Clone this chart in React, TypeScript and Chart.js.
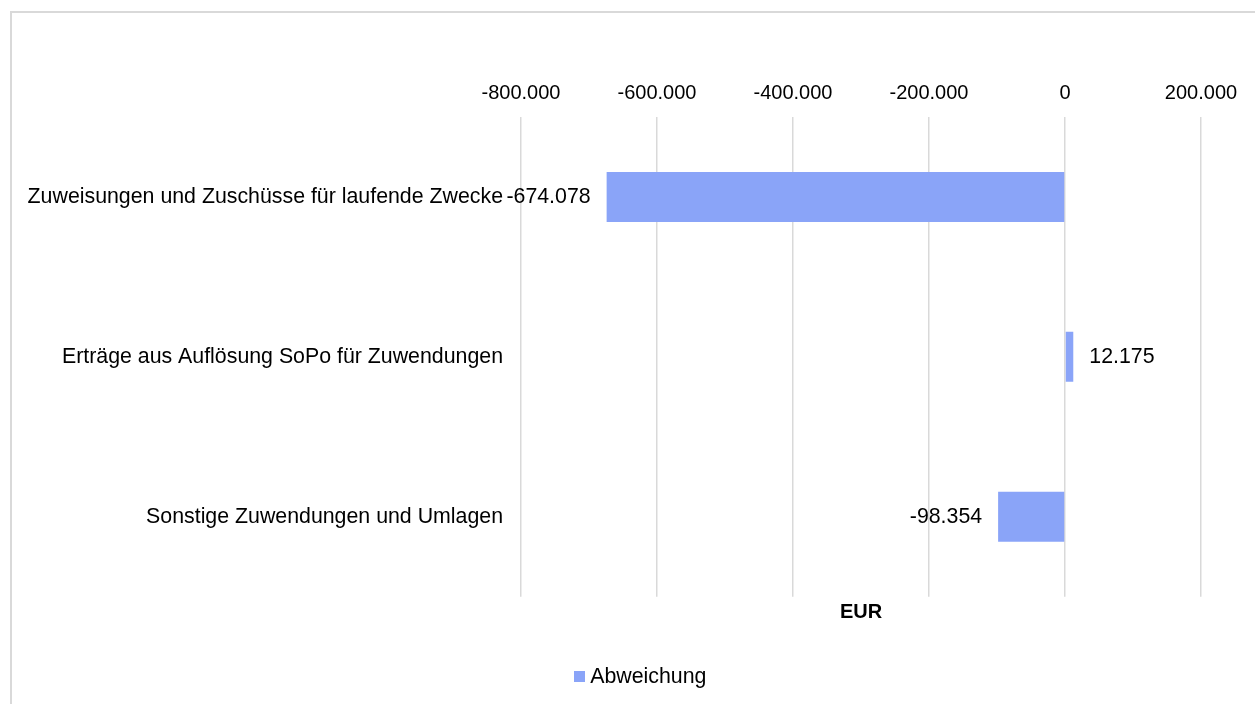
import React, { useEffect, useRef } from "react";
import { Chart, registerables } from "chart.js";

Chart.register(...registerables);

const categories = [
  "Zuweisungen und Zuschüsse für laufende Zwecke",
  "Erträge aus Auflösung SoPo für Zuwendungen",
  "Sonstige Zuwendungen und Umlagen",
];
const abweichung = [-674078, 12175, -98354];
const seriesLabel = "Abweichung";
const axisTitle = "EUR";
const xMin = -800000;
const xMax = 200000;
const xStep = 200000;

const FONT = '"Liberation Sans", Arial, Helvetica, sans-serif';
const BAR_COLOR = "#8AA4F8";
const LABEL_SIZE = 21.33;

function fmt(v: number): string {
  const neg = v < 0;
  const s = Math.round(Math.abs(v)).toString();
  const parts: string[] = [];
  for (let i = s.length; i > 0; i -= 3) parts.unshift(s.substring(Math.max(0, i - 3), i));
  return (neg ? "-" : "") + parts.join(".");
}

function makeMarker(): HTMLCanvasElement {
  const c = document.createElement("canvas");
  c.width = 11;
  c.height = 11;
  const g = c.getContext("2d");
  if (g) {
    g.fillStyle = BAR_COLOR;
    g.fillRect(0, 0, 11, 11);
  }
  return c;
}

const valueLabels = {
  id: "valueLabels",
  afterDatasetsDraw(chart: any) {
    const ctx = chart.ctx;
    const meta = chart.getDatasetMeta(0);
    ctx.save();
    ctx.font = `${LABEL_SIZE}px ${FONT}`;
    ctx.fillStyle = "#000";
    ctx.textBaseline = "middle";
    meta.data.forEach((bar: any, i: number) => {
      const v = abweichung[i];
      const { x, y } = bar.getProps(["x", "y"], true);
      if (v < 0) {
        ctx.textAlign = "right";
        ctx.fillText(fmt(v), x - 16, y);
      } else {
        ctx.textAlign = "left";
        ctx.fillText(fmt(v), x + 16, y);
      }
    });
    ctx.restore();
  },
};

export default function App() {
  const ref = useRef<HTMLCanvasElement | null>(null);
  useEffect(() => {
    if (!ref.current) return;
    Chart.defaults.font.family = FONT;
    const marker = makeMarker();
    const chart = new Chart(ref.current, {
      type: "bar",
      data: {
        labels: categories,
        datasets: [
          {
            label: seriesLabel,
            data: abweichung,
            backgroundColor: BAR_COLOR,
            borderWidth: 0,
            categoryPercentage: 1,
            barPercentage: 0.3125,
            pointStyle: marker,
          },
        ],
      },
      options: {
        indexAxis: "y",
        animation: false,
        responsive: false,
        devicePixelRatio: 1,
        layout: { padding: { top: 58, right: 0, left: 0, bottom: 33.5 } },
        scales: {
          x: {
            type: "linear",
            position: "top",
            min: xMin,
            max: xMax,
            ticks: {
              stepSize: xStep,
              padding: 12,
              color: "#000",
              font: { size: 20 },
              callback: (v: any) => fmt(Number(v)),
            },
            grid: { color: "#d9d9d9", lineWidth: 1.5, drawTicks: false },
            border: { display: false },
          },
          x2: {
            type: "linear",
            position: "bottom",
            min: xMin,
            max: xMax,
            ticks: { display: false },
            grid: { display: false, drawTicks: false },
            border: { display: false },
            title: {
              display: true,
              text: axisTitle,
              color: "#000",
              font: { size: 20, weight: "bold" },
              padding: { top: 4, bottom: 31.5 },
            },
          },
          y: {
            grid: { display: false, drawTicks: false },
            border: { display: false },
            ticks: { padding: 18, color: "#000", font: { size: LABEL_SIZE } },
            afterFit: (s: any) => {
              s.width = 511;
            },
          },
          y2: {
            type: "linear",
            position: "right",
            ticks: { display: false },
            grid: { display: false, drawTicks: false },
            border: { display: false },
            afterFit: (s: any) => {
              s.width = 75;
            },
          },
        },
        plugins: {
          legend: {
            position: "bottom",
            labels: {
              usePointStyle: true,
              pointStyleWidth: 0.01,
              color: "#000",
              font: { size: LABEL_SIZE },
              padding: 10,
            },
          },
          tooltip: { enabled: false },
        },
      } as any,
      plugins: [valueLabels],
    });
    return () => chart.destroy();
  }, []);

  return (
    <div
      style={{
        position: "fixed",
        left: 0,
        top: 0,
        width: 1255,
        height: 704,
        overflow: "hidden",
        background: "#fff",
      }}
    >
      <div
        style={{
          position: "absolute",
          left: 10,
          top: 11,
          width: 1266,
          height: 720,
          border: "2px solid #d9d9d9",
          boxSizing: "border-box",
        }}
      />
      <canvas
        ref={ref}
        width={1266}
        height={720}
        style={{ position: "absolute", left: 10, top: 11, width: 1266, height: 720 }}
      />
    </div>
  );
}
